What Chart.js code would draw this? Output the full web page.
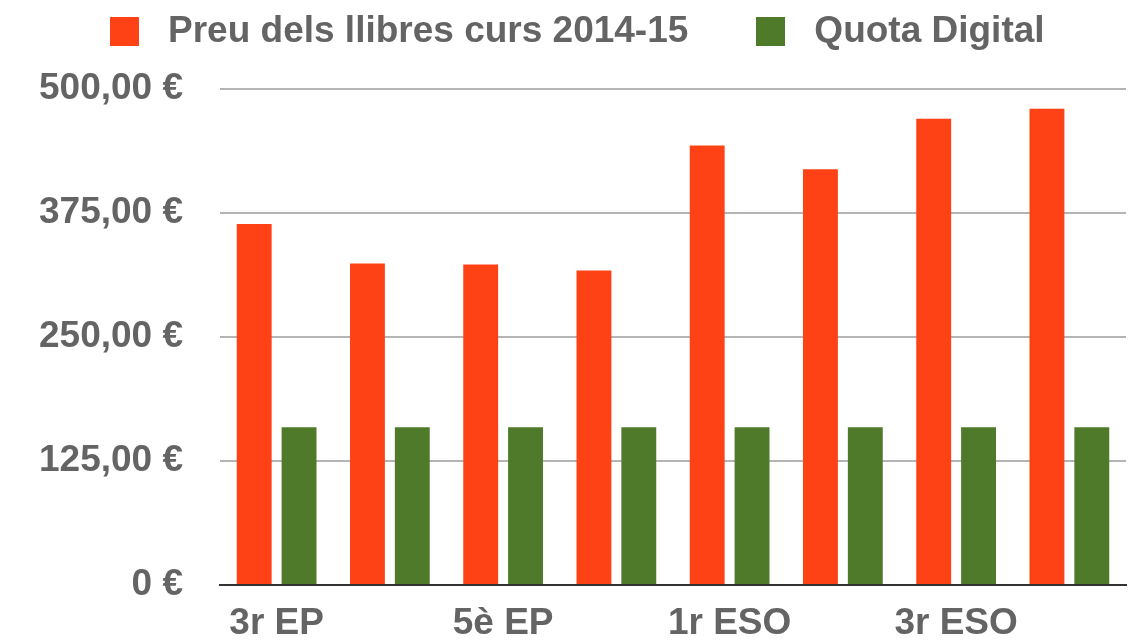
<!DOCTYPE html>
<html>
<head>
<meta charset="utf-8">
<script src="https://cdn.jsdelivr.net/npm/chart.js@4/dist/chart.umd.min.js"></script>
<style>
  body { margin: 0; background: #fff; }
  #wrap { position: relative; width: 1129px; height: 641px; }
  #legend { position: absolute; top: 11px; left: 110px; display: flex; align-items: flex-start;
    font-family: "Liberation Sans", Arial, sans-serif; font-weight: bold; font-size: 37px; line-height: 1; color: #646464; }
  .box { width: 29px; height: 29px; margin-top: 6px; margin-right: 29px; }
  .item { display: flex; align-items: flex-start; margin-right: 68px; white-space: nowrap; }
</style>
</head>
<body>
<div id="wrap">
  <canvas id="chart" width="1129" height="641"></canvas>
  <div id="legend"></div>
</div>
<script>
    // cursos (nomes es mostra una etiqueta de cada dues)
    const cursos = ["3r EP", "4t EP", "5è EP", "6è EP", "1r ESO", "2n ESO", "3r ESO", "4t ESO"]
    const preuLlibres = [364, 324, 323, 317, 443, 419, 470, 480]
    const quotaDigital = [159, 159, 159, 159, 159, 159, 159, 159]
    const yTicks = [0, 125, 250, 375, 500]

    const nomSeries = ["Preu dels llibres curs 2014-15", "Quota Digital"]
    const colors = ["#ff4215", "#4e7a29"]

    //LLEGENDA
    const legend = document.querySelector("#legend")
    nomSeries.forEach((nom, i) => {
        const item = document.createElement("div")
        item.className = "item"
        const box = document.createElement("div")
        box.className = "box"
        box.style.background = colors[i]
        const txt = document.createElement("span")
        txt.textContent = nom
        item.appendChild(box)
        item.appendChild(txt)
        legend.appendChild(item)
    })

    const euro = function(v){
        if(v === 0) return "0 €"
        return v.toFixed(2).replace(".", ",") + " €"
    }

    const font = { family: "'Liberation Sans', Arial, sans-serif", size: 37, weight: "bold" }

    const data = {
        labels: cursos,
        datasets: [{
            label: nomSeries[0],
            backgroundColor: colors[0],
            data: preuLlibres
        }, {
            label: nomSeries[1],
            backgroundColor: colors[1],
            data: quotaDigital
        }]
    }

    const config = {
        type: "bar",
        data: data,
        options: {
            responsive: false,
            animation: false,
            categoryPercentage: 0.792,
            barPercentage: 0.778,
            layout: { padding: { top: 89, right: 3, left: 0, bottom: 0 } },
            plugins: { legend: { display: false }, tooltip: { enabled: false } },
            scales: {
                x: {
                    afterFit: s => { s.height = 56 },
                    grid: { display: false, drawTicks: false },
                    border: { color: "#333", width: 2 },
                    ticks: {
                        autoSkip: false,
                        maxRotation: 0,
                        padding: 17,
                        color: "#646464",
                        font: font,
                        callback: (v, i) => i % 2 === 0 ? cursos[i] : ""
                    }
                },
                y: {
                    min: 0,
                    max: 500,
                    afterFit: s => { s.width = 220 },
                    afterBuildTicks: s => { s.ticks = yTicks.map(v => ({ value: v })) },
                    border: { display: false },
                    grid: {
                        // marca invisible per separar les etiquetes de l'eix
                        drawTicks: true,
                        tickLength: 37,
                        tickColor: "rgba(0,0,0,0)",
                        lineWidth: 2,
                        color: c => c.tick && c.tick.value === 0 ? "#333" : "#b4b4b4"
                    },
                    ticks: {
                        padding: 0,
                        color: "#646464",
                        font: font,
                        callback: v => euro(v)
                    }
                }
            }
        }
    }

    const myChart = new Chart(document.querySelector("#chart"), config)
</script>
</body>
</html>
